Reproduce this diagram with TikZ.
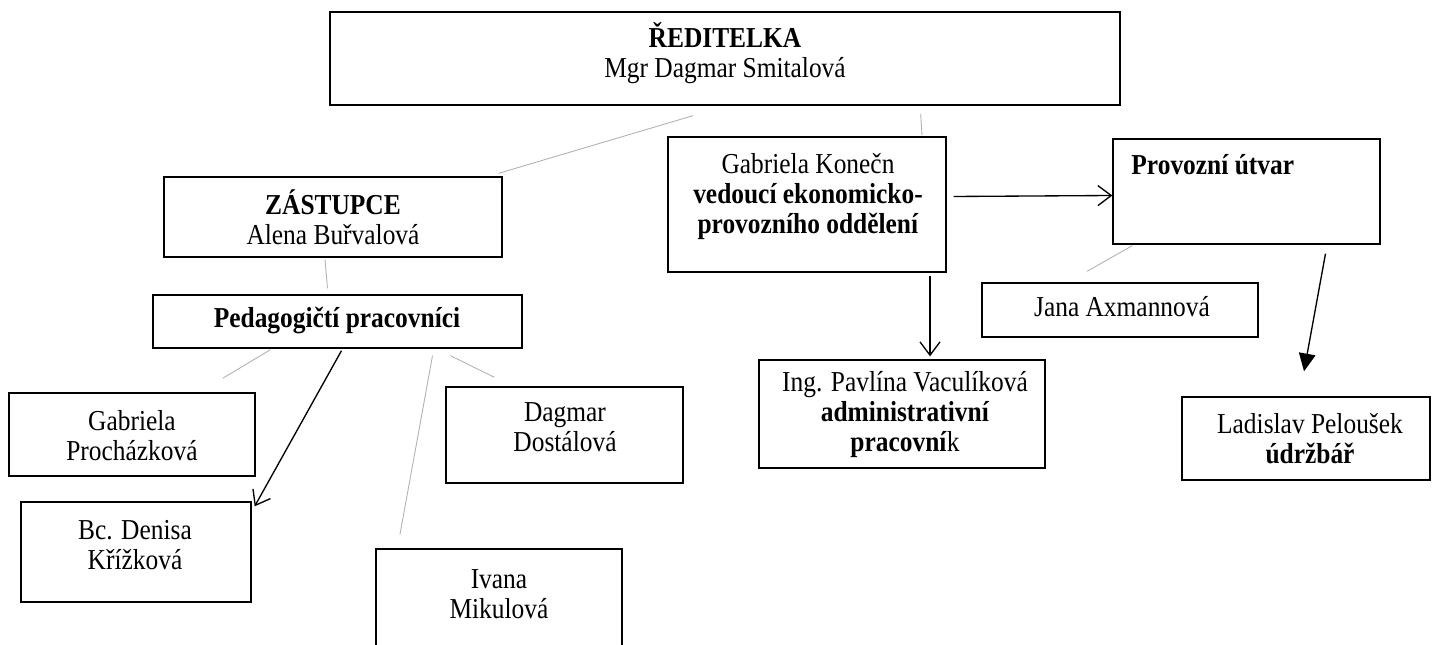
\documentclass[tikz,border=0pt]{standalone}
\usepackage{fontspec}
\setmainfont{Liberation Serif}[FakeStretch=0.88]
\usetikzlibrary{arrows.meta,fit}

\begin{document}
\begin{tikzpicture}[x=0.45pt,y=-0.45pt,
	box/.style={draw,line width=0.6pt,inner sep=0pt,fit={#1}},
	txt/.style={align=center,inner sep=0pt,font=\fontsize{13}{13.5}\selectfont},
	faint/.style={draw=gray!60,line width=0.4pt},
	barb/.style={line width=0.6pt,-{Straight Barb[length=6pt,width=9pt]}},
	fat/.style={line width=0.6pt,-{Triangle[length=8pt,width=7.5pt]}}]
	\clip (0,0) rectangle (1438,645);
	% boxes
	\node[box={(330,12) (1120,105)}] (ridit) {};
	\node[box={(164,177) (502,257)}] (zast) {};
	\node[box={(153,295) (522,348)}] (pedag) {};
	\node[box={(9,393) (255,476)}] (proch) {};
	\node[box={(21,502) (251,602)}] (krizk) {};
	\node[box={(446,387) (683,483)}] (dostal) {};
	\node[box={(376,549) (622,680)}] (mikul) {};
	\node[box={(668,137) (946,272)}] (konecn) {};
	\node[box={(1113,139) (1380,244)}] (provoz) {};
	\node[box={(982,283) (1258,337)}] (axman) {};
	\node[box={(759,360) (1045,468)}] (vacul) {};
	\node[box={(1182,397) (1430,480)}] (pelous) {};
	% texts
	\node[txt] (riditT) at (725,53) {\textbf{ŘEDITELKA}\\Mgr Dagmar Smitalová};
	\node[txt] (zastT) at (333,217) {\textbf{ZÁSTUPCE}\\Alena Buřvalová};
	\node[txt] (pedagT) at (337,321) {\textbf{Pedagogičtí pracovníci}};
	\node[txt] (prochT) at (132,436) {Gabriela\\Procházková};
	\node[txt] (krizkT) at (135,545) {Bc. Denisa\\Křížková};
	\node[txt] (dostalT) at (565,427) {Dagmar\\Dostálová};
	\node[txt] (mikulT) at (499,594) {Ivana\\Mikulová};
	\node[txt] (konecnT) at (808,197) {Gabriela Konečn\\\textbf{vedoucí ekonomicko-}\\\textbf{provozního oddělení}};
	\node[txt,anchor=west] (provozT) at (1131,165) {\textbf{Provozní útvar}};
	\node[txt] (axmanT) at (1122,307) {Jana Axmannová};
	\node[txt] (vaculT) at (905,415) {Ing. Pavlína Vaculíková\\\textbf{administrativní}\\\textbf{pracovní}k};
	\node[txt] (pelousT) at (1310,439) {Ladislav Peloušek\\\textbf{údržbář}};
	% connectors
	\draw[faint] ([shift={(-32,10)}]ridit.south) -- ([shift={(-4,-3)}]zast.north east);
	\draw[faint] ([shift={(-200,8)}]ridit.south east) -- ([shift={(115,-1)}]konecn.north);
	\draw[faint] ([shift={(-8,2)}]zast.south) -- ([shift={(-10,-6)}]pedag.north);
	\draw[faint] ([shift={(-67,1)}]pedag.south) -- ([shift={(-33,-14)}]proch.north east);
	\draw[barb] ([shift={(4,2)}]pedag.south) -- ([shift={(3,5)}]krizk.north east);
	\draw[faint] ([shift={(95,7)}]pedag.south) -- ([shift={(-99,-14)}]mikul.north);
	\draw[faint] ([shift={(113,7)}]pedag.south) -- ([shift={(49,-9)}]dostal.north west);
	\draw[barb] ([shift={(7,-8)}]konecn.east) -- ([shift={(0,4)}]provoz.west);
	\draw[barb] ([shift={(123,3)}]konecn.south) -- ([shift={(28,-3)}]vacul.north);
	\draw[faint] ([shift={(20,1)}]provoz.south west) -- ([shift={(-33,-11)}]axman.north);
	\draw[fat] ([shift={(79,9)}]provoz.south) -- ([shift={(-2,-25)}]pelous.north);
\end{tikzpicture}
\end{document}
